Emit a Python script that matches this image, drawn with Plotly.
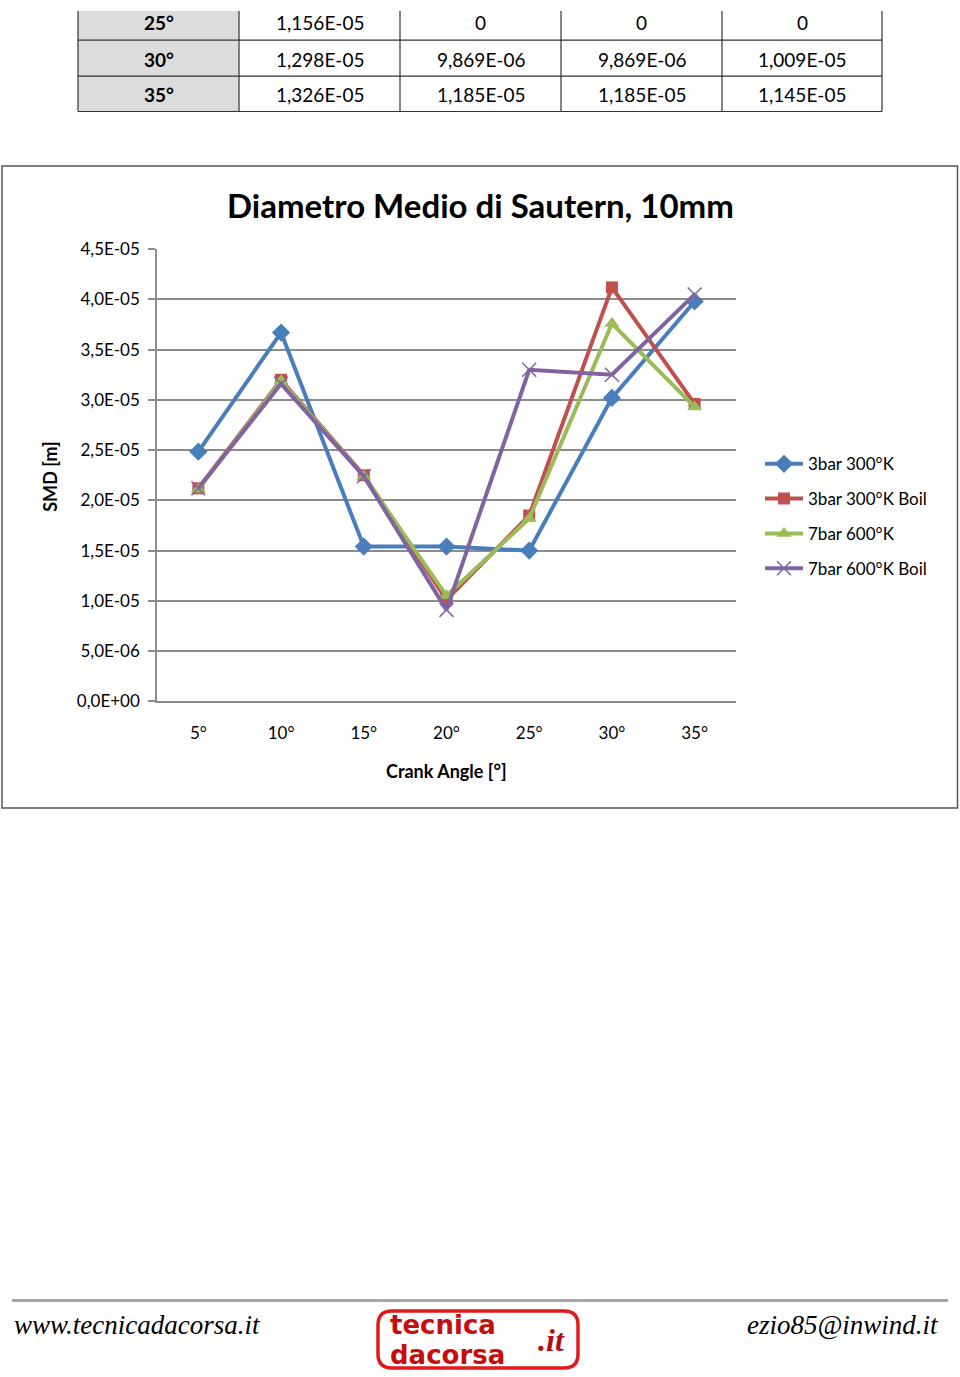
import plotly.graph_objects as go

W, H = 960, 1377

# ---------------- data ----------------
angles = ["5°", "10°", "15°", "20°", "25°", "30°", "35°"]
series_names = ["3bar 300°K", "3bar 300°K Boil", "7bar 600°K", "7bar 600°K Boil"]
smd_3bar_300 = [2.485e-5, 3.67e-5, 1.54e-5, 1.54e-5, 1.50e-5, 3.02e-5, 3.98e-5]
smd_3bar_300_boil = [2.12e-5, 3.20e-5, 2.25e-5, 1.01e-5, 1.85e-5, 4.12e-5, 2.96e-5]
smd_7bar_600 = [2.11e-5, 3.19e-5, 2.24e-5, 1.05e-5, 1.82e-5, 3.76e-5, 2.93e-5]
smd_7bar_600_boil = [2.12e-5, 3.16e-5, 2.24e-5, 0.91e-5, 3.30e-5, 3.25e-5, 4.05e-5]

y_tickvals = [0, 5e-6, 1e-5, 1.5e-5, 2e-5, 2.5e-5, 3e-5, 3.5e-5, 4e-5, 4.5e-5]
y_ticktext = ["0,0E+00", "5,0E-06", "1,0E-05", "1,5E-05", "2,0E-05", "2,5E-05",
              "3,0E-05", "3,5E-05", "4,0E-05", "4,5E-05"]

table_angles = ["25°", "30°", "35°"]
table_c1 = ["1,156E-05", "1,298E-05", "1,326E-05"]
table_c2 = ["0", "9,869E-06", "1,185E-05"]
table_c3 = ["0", "9,869E-06", "1,185E-05"]
table_c4 = ["0", "1,009E-05", "1,145E-05"]

colors = ["#4A7EBB", "#C0504D", "#9BBB59", "#8064A2"]
FONT = "Lato, Carlito, Calibri, sans-serif"

# vertical calibration of the rendered page (measured)
V_OFF, V_SC = 9.3, 0.98675


def px(x):
    return x / W


def py(y):
    ys = (y - V_OFF) / V_SC
    return 1 - ys / H


fig = go.Figure()

all_series = [smd_3bar_300, smd_3bar_300_boil, smd_7bar_600, smd_7bar_600_boil]
markers = [
    dict(symbol="diamond", size=14, color=colors[0]),
    dict(symbol="square", size=12, color=colors[1]),
    dict(symbol="triangle-up", size=13, color=colors[2]),
    dict(symbol="x-thin", size=14, color=colors[3], line=dict(width=1.5, color=colors[3])),
]
for i, (name, vals) in enumerate(zip(series_names, all_series)):
    fig.add_trace(go.Scatter(
        x=angles, y=vals, name=name, mode="lines+markers",
        line=dict(color=colors[i], width=4),
        marker=markers[i], legendgroup=f"g{i}",
    ))

shapes = []
annotations = []

# ---------------- table ----------------
col_x = [78, 239, 400, 561, 722, 882]
row_y = [3, 38.5, 74.5, 110]
top_y = min(py(row_y[0]), 1.0)
shapes.append(dict(type="rect", xref="paper", yref="paper",
                   x0=px(col_x[0]), x1=px(col_x[1]), y0=top_y, y1=py(row_y[-1]),
                   fillcolor="#DCDCDC", line=dict(width=0), layer="below"))
for x in col_x:
    shapes.append(dict(type="line", xref="paper", yref="paper",
                       x0=px(x), x1=px(x), y0=top_y, y1=py(row_y[-1]),
                       line=dict(color="#333333", width=1.2)))
for y in row_y[1:]:
    shapes.append(dict(type="line", xref="paper", yref="paper",
                       x0=px(col_x[0]), x1=px(col_x[-1]), y0=py(y), y1=py(y),
                       line=dict(color="#333333", width=1.2)))
cols = [table_angles, table_c1, table_c2, table_c3, table_c4]
for ci, col in enumerate(cols):
    cx = (col_x[ci] + col_x[ci + 1]) / 2
    for ri, txt in enumerate(col):
        cy = (row_y[ri] + row_y[ri + 1]) / 2 + 1
        if ri == 0:
            cy = 21
        annotations.append(dict(
            x=px(cx), y=py(cy), xref="paper", yref="paper", text=(f"<b>{txt}</b>" if ci == 0 else txt),
            showarrow=False, xanchor="center", yanchor="middle",
            font=dict(family=FONT, size=19, color="#000000")))

# ---------------- chart frame ----------------
shapes.append(dict(type="rect", xref="paper", yref="paper",
                   x0=px(2), x1=px(957.5), y0=py(808), y1=py(164.5),
                   line=dict(color="#555555", width=1.5), fillcolor="rgba(0,0,0,0)"))

annotations.append(dict(x=px(480), y=py(204), xref="paper", yref="paper",
                        text="<b>Diametro Medio di Sautern, 10mm</b>", showarrow=False,
                        xanchor="center", yanchor="middle",
                        font=dict(family=FONT, size=33, color="#000000")))
annotations.append(dict(x=px(50), y=py(476), xref="paper", yref="paper",
                        text="<b>SMD [m]</b>", showarrow=False, textangle=-90,
                        xanchor="center", yanchor="middle",
                        font=dict(family=FONT, size=18, color="#000000")))
annotations.append(dict(x=px(446), y=py(771), xref="paper", yref="paper",
                        text="<b>Crank Angle [°]</b>", showarrow=False,
                        xanchor="center", yanchor="middle",
                        font=dict(family=FONT, size=18, color="#000000")))

# ---------------- footer ----------------
shapes.append(dict(type="line", xref="paper", yref="paper",
                   x0=px(12), x1=px(948), y0=py(1301.5), y1=py(1301.5),
                   line=dict(color="#A6A6A6", width=3)))
annotations.append(dict(x=px(12), y=py(1326), xref="paper", yref="paper",
                        text="<i>www.tecnicadacorsa.it</i>", showarrow=False,
                        xanchor="left", yanchor="middle",
                        font=dict(family="Liberation Serif, Times New Roman, serif", size=27, color="#000000")))
annotations.append(dict(x=px(941), y=py(1326), xref="paper", yref="paper",
                        text="<i>ezio85@inwind.it</i>", showarrow=False,
                        xanchor="right", yanchor="middle",
                        font=dict(family="Liberation Serif, Times New Roman, serif", size=27, color="#000000")))
# logo
lx0, lx1, ly0, ly1, r = 378, 578, 1312, 1369, 14
shapes.append(dict(type="path", xref="paper", yref="paper",
                   path=(f"M {px(lx0 + r)},{py(ly0)} L {px(lx1 - r)},{py(ly0)} "
                         f"Q {px(lx1)},{py(ly0)} {px(lx1)},{py(ly0 + r)} L {px(lx1)},{py(ly1 - r)} "
                         f"Q {px(lx1)},{py(ly1)} {px(lx1 - r)},{py(ly1)} L {px(lx0 + r)},{py(ly1)} "
                         f"Q {px(lx0)},{py(ly1)} {px(lx0)},{py(ly1 - r)} L {px(lx0)},{py(ly0 + r)} "
                         f"Q {px(lx0)},{py(ly0)} {px(lx0 + r)},{py(ly0)} Z"),
                   line=dict(color="#E01B1B", width=3.5), fillcolor="#FFFFFF"))
annotations.append(dict(x=px(388), y=py(1326), xref="paper", yref="paper",
                        text="<b>tecnica</b>", showarrow=False, xanchor="left", yanchor="middle",
                        font=dict(family="DejaVu Sans, sans-serif", size=26, color="#C40F0F")))
annotations.append(dict(x=px(388), y=py(1356), xref="paper", yref="paper",
                        text="<b>dacorsa</b>", showarrow=False, xanchor="left", yanchor="middle",
                        font=dict(family="DejaVu Sans, sans-serif", size=26, color="#C40F0F")))
annotations.append(dict(x=px(551), y=py(1341), xref="paper", yref="paper",
                        text="<b><i>.it</i></b>", showarrow=False, xanchor="center", yanchor="middle",
                        font=dict(family="Liberation Serif, serif", size=32, color="#B01010")))

fig.update_layout(
    width=W, height=H, margin=dict(l=0, r=0, t=0, b=0),
    paper_bgcolor="#FFFFFF", plot_bgcolor="#FFFFFF",
    font=dict(family=FONT, size=17, color="#000000"),
    shapes=shapes, annotations=annotations,
    showlegend=True,
    legend=dict(x=px(760), y=1 - 442 / H, xanchor="left", yanchor="top",
                bgcolor="rgba(0,0,0,0)", tracegroupgap=9.7,
                font=dict(family=FONT, size=17, color="#000000"),
                itemwidth=38),
    xaxis=dict(domain=[px(157), px(736)], type="category", range=[-0.5, 6.5],
               showgrid=False, zeroline=False, showline=True, linecolor="#8C8C8C", linewidth=1.5,
               ticks="", ticklabelstandoff=16,
               tickfont=dict(family=FONT, size=17, color="#000000")),
    yaxis=dict(domain=[py(701), py(248)], range=[0, 4.5e-5],
               tickvals=y_tickvals, ticktext=y_ticktext,
               showgrid=True, gridcolor="#8C8C8C", gridwidth=1.5, zeroline=False,
               showline=True, linecolor="#8C8C8C", linewidth=1.5,
               ticks="outside", ticklen=7, tickcolor="#8C8C8C", tickwidth=1.5,
               ticklabelstandoff=5,
               tickfont=dict(family=FONT, size=17, color="#000000")),
)

fig.write_html("out.html")
